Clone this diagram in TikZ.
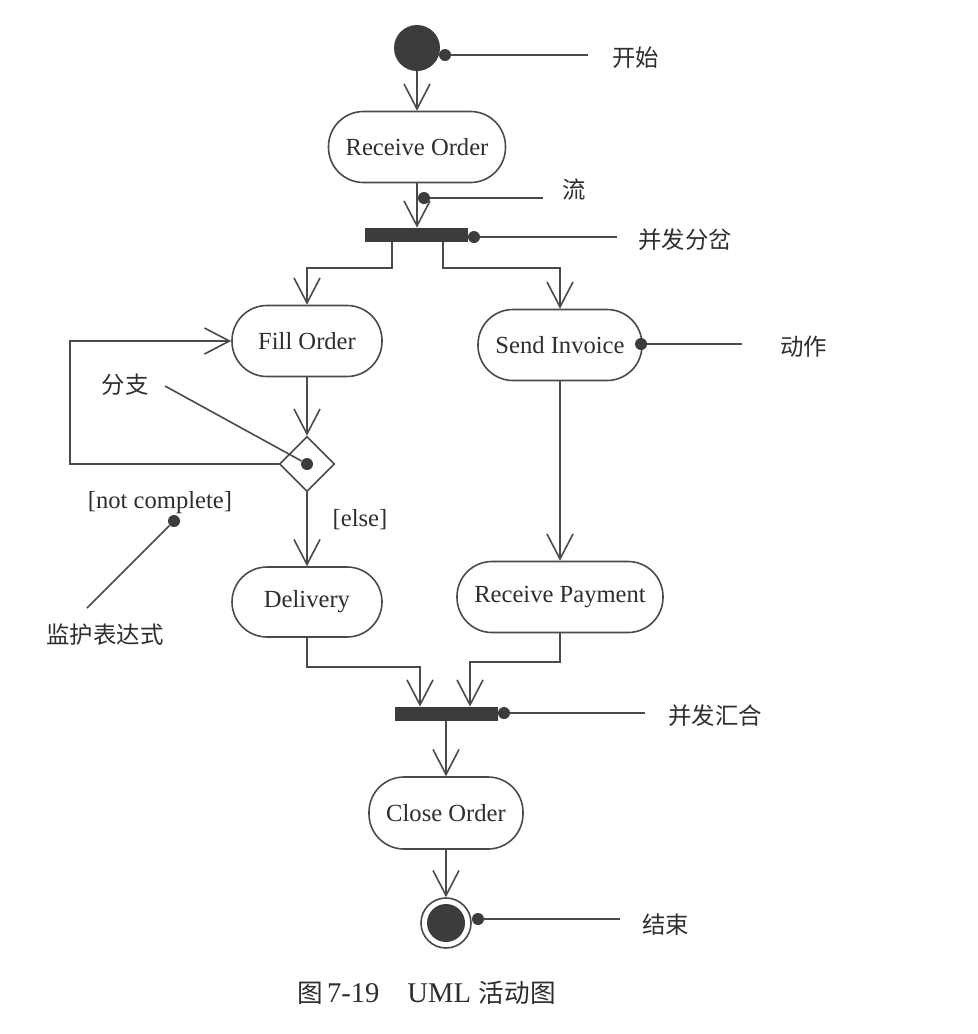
\documentclass[tikz,border=0pt]{standalone}
\usepackage{fontspec}
\setmainfont{Liberation Serif}
\newfontfamily\cjk{Noto Sans CJK SC}
\usetikzlibrary{arrows.meta,shapes.geometric}
\definecolor{lc}{HTML}{4A4A4A}
\definecolor{fc}{HTML}{3C3C3C}
\definecolor{tc}{HTML}{2E2E2E}
\begin{document}
\begin{tikzpicture}[x=0.5pt,y=-0.5pt,
  every node/.style={text=tc},
  line/.style={draw=lc,line width=0.8pt},
  flow/.style={line,-{Straight Barb[length=12.5pt,width=13pt,line width=0.8pt]}},
  action/.style={line,rectangle,rounded corners=17.5pt,minimum height=35.5pt,inner sep=0pt,font=\fontsize{12.3}{14}\selectfont},
  bar/.style={rectangle,fill=fc,draw=none,minimum width=51.5pt,minimum height=7pt,inner sep=0pt},
  dot/.style={circle,fill=fc,draw=none,minimum size=6pt,inner sep=0pt},
  startnode/.style={circle,fill=fc,draw=none,minimum size=23pt,inner sep=0pt},
  decision/.style={line,diamond,minimum width=27.5pt,minimum height=27.5pt,inner sep=0pt,aspect=1},
  cjklabel/.style={font=\cjk\fontsize{11.7}{14}\selectfont,inner sep=0pt},
  txtlabel/.style={font=\fontsize{12.3}{14}\selectfont,inner sep=0pt}]
\useasboundingbox[fill=white] (0,0) rectangle (978,1034);

% start
\node[startnode] (start) at (417,48) {};
\node[dot] (startdot) at (445,55) {};
\coordinate (startend) at (588,55);
\node[cjklabel,anchor=west] (startlbl) at (612,58) {开始};
\draw[line] (startdot) -- (startend);

% receive order
\node[action,minimum width=88.5pt] (recv) at (417,147) {Receive Order};
\draw[flow] (start) -- (recv);

% fork
\node[bar] (fork) at (416.5,235) {};
\draw[flow] (recv.south) -- (recv.south |- fork.north);
\node[dot] (flowdot) at (424,198) {};
\coordinate (flowend) at (543,198);
\node[cjklabel,anchor=west] (flowlbl) at (562,190) {流};
\draw[line] (flowdot) -- (flowend);
\node[dot] (forkdot) at (474,237) {};
\coordinate (forkend) at (617,237);
\node[cjklabel,anchor=west] (forklbl) at (638,240) {并发分岔};
\draw[line] (forkdot) -- (forkend);

% actions
\node[action,minimum width=75pt] (fill) at (307,341) {Fill Order};
\node[action,minimum width=82pt] (send) at (560,345) {Send Invoice};
\coordinate (f1) at (392,268);
\coordinate (f2) at (443,268);
\draw[flow] (fork.south -| f1) -- (f1) -| (fill.north);
\draw[flow] (fork.south -| f2) -- (f2) -| (send.north);

\node[dot] (senddot) at (641,344) {};
\coordinate (sendend) at (742,344);
\node[cjklabel,anchor=west] (sendlbl) at (780,347) {动作};
\draw[line] (senddot) -- (sendend);

% decision
\node[decision] (dec) at (307,464) {};
\draw[flow] (fill) -- (dec);
\coordinate (loopc) at (70,464);
\draw[flow] (dec.west) -- (loopc) |- (fill.west);
\node[dot] (decdot) at (307,464) {};
\node[cjklabel] (declbl) at (125,385) {分支};
\coordinate (decstart) at (165,386);
\draw[line] (decstart) -- (decdot);

% delivery and payment
\node[action,minimum width=75pt,minimum height=35pt] (deliv) at (307,602) {Delivery};
\node[action,minimum width=103pt] (pay) at (560,597) {Receive Payment};
\draw[flow] (dec) -- (deliv);
\node[txtlabel] (elselbl) at (360,520) {[else]};
\draw[flow] (send) -- (pay);

\node[txtlabel] (ncl) at (160,503) {[not complete]};
\node[dot] (ncdot) at (174,521) {};
\coordinate (ncend) at (87,608);
\node[cjklabel] (guardlbl) at (105,635) {监护表达式};
\draw[line] (ncdot) -- (ncend);

% join
\node[bar] (join) at (446,714) {};
\coordinate (j1) at (420,667);
\coordinate (j2) at (470,662);
\draw[flow] (deliv.south) |- (j1) -- (j1 |- join.north);
\draw[flow] (pay.south) |- (j2) -- (j2 |- join.north);
\node[dot] (joindot) at (504,713) {};
\coordinate (joinend) at (645,713);
\node[cjklabel,anchor=west] (joinlbl) at (668,716) {并发汇合};
\draw[line] (joindot) -- (joinend);

% close and end
\node[action,minimum width=77pt,minimum height=36pt] (close) at (446,813) {Close Order};
\draw[flow] (join) -- (close);
\node[line,circle,minimum size=25pt,inner sep=0pt] (endc) at (446,923) {};
\node[circle,fill=fc,minimum size=19pt,inner sep=0pt] (endin) at (endc.center) {};
\draw[flow] (close) -- (endc);
\node[dot] (enddot) at (478,919) {};
\coordinate (endend) at (620,919);
\node[cjklabel,anchor=west] (endlbl) at (642,925) {结束};
\draw[line] (enddot) -- (endend);

% caption
\node[anchor=west,inner sep=0pt,font=\fontsize{14.3}{16}\selectfont] (caption) at (297,993)
  {{\cjk\fontsize{12.8}{16}\selectfont 图}\hspace{2pt}7-19\hspace{14pt}UML\hspace{4pt}{\cjk\fontsize{12.8}{16}\selectfont 活动图}};
\end{tikzpicture}
\end{document}
